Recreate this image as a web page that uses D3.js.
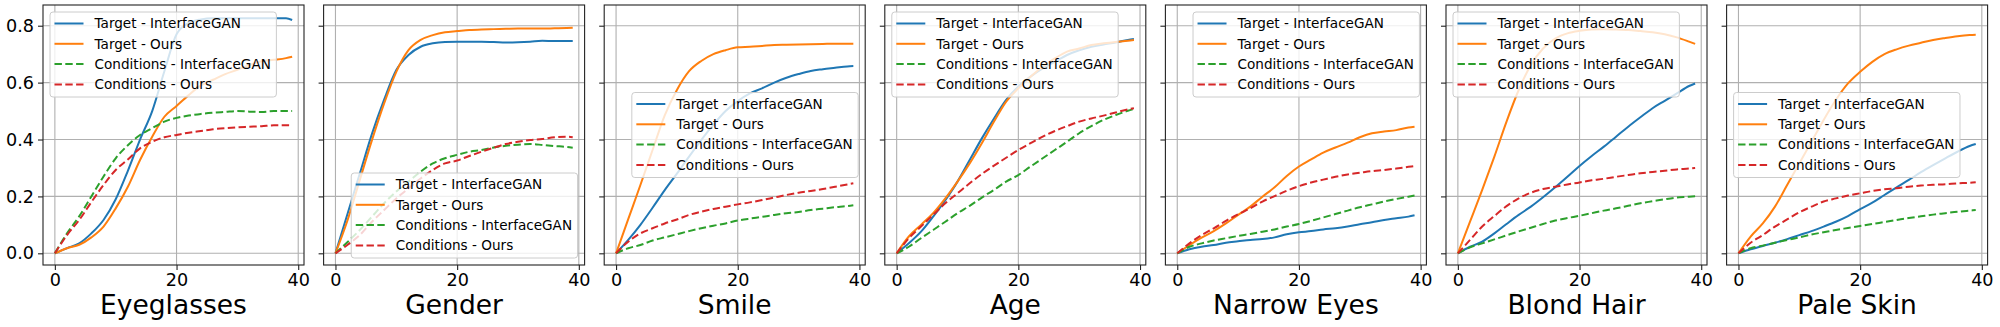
<!DOCTYPE html>
<html>
<head>
<meta charset="utf-8">
<script src="https://cdn.jsdelivr.net/npm/d3@7"></script>
<style>
	body { margin: 0; background: #fff; }
	svg { display: block; font-family: 'DejaVu Sans', sans-serif; }
</style>
</head>
<body>
<svg id="chart" width="2000" height="327"></svg>
<script>
var steps = [0, 2, 4, 6, 8, 10, 12, 14, 16, 18, 20, 22, 24, 26, 28, 30, 32, 34, 36, 38, 39]

var attributes = ['Eyeglasses', 'Gender', 'Smile', 'Age', 'Narrow Eyes', 'Blond Hair', 'Pale Skin']
var seriesNames = ['Target - InterfaceGAN', 'Target - Ours', 'Conditions - InterfaceGAN', 'Conditions - Ours']
var yTicks = [0, 0.2, 0.4, 0.6, 0.8]
var xTicks = [0, 20, 40]

var eyeglassesTargetIgan = [0, 0.018, 0.035, 0.07, 0.117, 0.19, 0.29, 0.40, 0.50, 0.64, 0.77, 0.81, 0.822, 0.826, 0.826, 0.826, 0.826, 0.826, 0.826, 0.826, 0.82]
var eyeglassesTargetOurs = [0, 0.018, 0.03, 0.056, 0.094, 0.158, 0.234, 0.328, 0.41, 0.48, 0.518, 0.556, 0.59, 0.61, 0.63, 0.645, 0.662, 0.675, 0.68, 0.686, 0.691]
var eyeglassesCondIgan = [0, 0.07, 0.13, 0.2, 0.27, 0.334, 0.38, 0.416, 0.44, 0.463, 0.476, 0.484, 0.49, 0.494, 0.497, 0.5, 0.498, 0.497, 0.5, 0.5, 0.5]
var eyeglassesCondOurs = [0, 0.064, 0.117, 0.18, 0.24, 0.293, 0.33, 0.369, 0.392, 0.408, 0.416, 0.424, 0.43, 0.436, 0.44, 0.443, 0.445, 0.447, 0.45, 0.45, 0.45]

var genderTargetIgan = [0, 0.14, 0.28, 0.42, 0.54, 0.644, 0.697, 0.726, 0.738, 0.743, 0.744, 0.744, 0.744, 0.743, 0.741, 0.742, 0.744, 0.747, 0.746, 0.746, 0.746]
var genderTargetOurs = [0, 0.117, 0.258, 0.398, 0.527, 0.638, 0.714, 0.75, 0.767, 0.777, 0.781, 0.785, 0.787, 0.788, 0.789, 0.79, 0.79, 0.79, 0.791, 0.792, 0.793]
var genderCondIgan = [0, 0.04, 0.082, 0.129, 0.176, 0.217, 0.252, 0.287, 0.316, 0.334, 0.346, 0.357, 0.363, 0.372, 0.378, 0.382, 0.384, 0.381, 0.377, 0.374, 0.371]
var genderCondOurs = [0, 0.03, 0.064, 0.111, 0.152, 0.193, 0.228, 0.263, 0.293, 0.316, 0.326, 0.342, 0.357, 0.371, 0.384, 0.392, 0.398, 0.402, 0.408, 0.41, 0.408]

var smileTargetIgan = [0, 0.047, 0.10, 0.16, 0.222, 0.28, 0.34, 0.398, 0.452, 0.50, 0.535, 0.562, 0.58, 0.60, 0.617, 0.63, 0.641, 0.647, 0.652, 0.657, 0.658]
var smileTargetOurs = [0, 0.12, 0.24, 0.363, 0.485, 0.574, 0.64, 0.676, 0.7, 0.714, 0.724, 0.726, 0.729, 0.732, 0.733, 0.734, 0.735, 0.736, 0.737, 0.737, 0.737]
var smileCondIgan = [0, 0.018, 0.029, 0.045, 0.056, 0.067, 0.078, 0.088, 0.097, 0.105, 0.115, 0.122, 0.128, 0.135, 0.141, 0.145, 0.152, 0.157, 0.162, 0.166, 0.169]
var smileCondOurs = [0, 0.041, 0.07, 0.088, 0.105, 0.119, 0.135, 0.146, 0.156, 0.164, 0.172, 0.179, 0.187, 0.196, 0.205, 0.213, 0.219, 0.226, 0.234, 0.242, 0.246]

var ageTargetIgan = [0, 0.035, 0.076, 0.129, 0.187, 0.252, 0.328, 0.404, 0.474, 0.539, 0.586, 0.621, 0.65, 0.673, 0.697, 0.714, 0.726, 0.734, 0.741, 0.75, 0.753]
var ageTargetOurs = [0, 0.059, 0.1, 0.141, 0.193, 0.252, 0.316, 0.387, 0.463, 0.533, 0.58, 0.621, 0.656, 0.685, 0.709, 0.72, 0.732, 0.738, 0.743, 0.747, 0.75]
var ageCondIgan = [0, 0.023, 0.053, 0.082, 0.111, 0.141, 0.167, 0.196, 0.223, 0.252, 0.275, 0.305, 0.334, 0.363, 0.392, 0.422, 0.447, 0.469, 0.486, 0.501, 0.507]
var ageCondOurs = [0, 0.053, 0.094, 0.135, 0.176, 0.211, 0.246, 0.279, 0.308, 0.336, 0.363, 0.387, 0.41, 0.43, 0.447, 0.463, 0.474, 0.484, 0.495, 0.506, 0.51]

var narrowTargetIgan = [0, 0.014, 0.023, 0.029, 0.037, 0.042, 0.047, 0.05, 0.056, 0.067, 0.074, 0.078, 0.084, 0.088, 0.094, 0.102, 0.109, 0.117, 0.123, 0.129, 0.134]
var narrowTargetOurs = [0, 0.029, 0.055, 0.078, 0.105, 0.135, 0.164, 0.199, 0.232, 0.272, 0.305, 0.33, 0.354, 0.372, 0.389, 0.408, 0.422, 0.428, 0.433, 0.442, 0.445]
var narrowCondIgan = [0, 0.023, 0.035, 0.045, 0.053, 0.061, 0.068, 0.076, 0.084, 0.094, 0.103, 0.114, 0.126, 0.138, 0.15, 0.162, 0.172, 0.182, 0.191, 0.199, 0.203]
var narrowCondOurs = [0, 0.035, 0.064, 0.088, 0.114, 0.137, 0.158, 0.182, 0.201, 0.22, 0.236, 0.249, 0.259, 0.269, 0.277, 0.283, 0.289, 0.293, 0.298, 0.304, 0.307]

var blondTargetIgan = [0, 0.023, 0.041, 0.07, 0.103, 0.135, 0.164, 0.197, 0.232, 0.269, 0.307, 0.342, 0.375, 0.41, 0.445, 0.478, 0.51, 0.536, 0.562, 0.588, 0.597]
var blondTargetOurs = [0, 0.111, 0.223, 0.34, 0.463, 0.574, 0.662, 0.72, 0.755, 0.773, 0.782, 0.787, 0.788, 0.787, 0.785, 0.781, 0.777, 0.77, 0.759, 0.744, 0.736]
var blondCondIgan = [0, 0.021, 0.035, 0.049, 0.063, 0.077, 0.09, 0.103, 0.115, 0.124, 0.132, 0.141, 0.15, 0.158, 0.167, 0.176, 0.183, 0.19, 0.196, 0.199, 0.201]
var blondCondOurs = [0, 0.047, 0.094, 0.131, 0.166, 0.193, 0.213, 0.226, 0.234, 0.242, 0.249, 0.257, 0.262, 0.269, 0.275, 0.281, 0.286, 0.29, 0.295, 0.298, 0.3]

var paleTargetIgan = [0, 0.014, 0.026, 0.037, 0.05, 0.064, 0.078, 0.094, 0.111, 0.131, 0.155, 0.178, 0.205, 0.232, 0.258, 0.285, 0.31, 0.334, 0.357, 0.377, 0.384]
var paleTargetOurs = [0, 0.059, 0.105, 0.164, 0.24, 0.316, 0.392, 0.469, 0.539, 0.597, 0.638, 0.673, 0.7, 0.717, 0.73, 0.74, 0.75, 0.757, 0.763, 0.767, 0.768]
var paleCondIgan = [0, 0.018, 0.027, 0.037, 0.047, 0.056, 0.066, 0.074, 0.082, 0.089, 0.096, 0.103, 0.11, 0.117, 0.124, 0.13, 0.136, 0.141, 0.146, 0.15, 0.152]
var paleCondOurs = [0, 0.037, 0.064, 0.094, 0.119, 0.144, 0.164, 0.182, 0.193, 0.203, 0.211, 0.219, 0.225, 0.229, 0.234, 0.238, 0.241, 0.243, 0.246, 0.248, 0.25]

var panelSeries = [
	[eyeglassesTargetIgan, eyeglassesTargetOurs, eyeglassesCondIgan, eyeglassesCondOurs],
	[genderTargetIgan, genderTargetOurs, genderCondIgan, genderCondOurs],
	[smileTargetIgan, smileTargetOurs, smileCondIgan, smileCondOurs],
	[ageTargetIgan, ageTargetOurs, ageCondIgan, ageCondOurs],
	[narrowTargetIgan, narrowTargetOurs, narrowCondIgan, narrowCondOurs],
	[blondTargetIgan, blondTargetOurs, blondCondIgan, blondCondOurs],
	[paleTargetIgan, paleTargetOurs, paleCondIgan, paleCondOurs]
]

var colors = ['#1f77b4', '#ff7f0e', '#2ca02c', '#d62728']
var dashes = [null, null, '7.4,3.4', '7.4,3.4']
var legendLoc = ['upper left', 'lower right', 'center right', 'upper left', 'upper right', 'upper left', 'center left']

var pw = 261
	ph = 260
	top0 = 5
	left0 = 43
	gap = 280.6

var x = d3.scaleLinear().domain([-1.95, 40.95]).range([0, pw])
var y = d3.scaleLinear().domain([-0.0411, 0.8728]).range([ph, 0])

var line = d3.line()
	.x(function (d) { return x(d[0]) })
	.y(function (d) { return y(d[1]) })
	.curve(d3.curveMonotoneX)

var svg = d3.select('#chart')

attributes.forEach(function (name, p) {

	var g = svg.append('g')
		.attr('transform', 'translate(' + (left0 + p * gap) + ',' + top0 + ')')

	// grid
	g.append('g').selectAll('line').data(xTicks).enter()
		.append('line')
		.attr('x1', function (d) { return x(d) })
		.attr('x2', function (d) { return x(d) })
		.attr('y1', 0)
		.attr('y2', ph)
		.attr('stroke', '#b0b0b0')
		.attr('stroke-width', 1.1)

	g.append('g').selectAll('line').data(yTicks).enter()
		.append('line')
		.attr('x1', 0)
		.attr('x2', pw)
		.attr('y1', function (d) { return y(d) })
		.attr('y2', function (d) { return y(d) })
		.attr('stroke', '#b0b0b0')
		.attr('stroke-width', 1.1)

	// axes
	g.append('g')
		.attr('transform', 'translate(0,' + ph + ')')
		.call(d3.axisBottom(x).tickValues(xTicks).tickSize(5).tickPadding(4).tickFormat(d3.format('d')))

	g.append('g')
		.call(d3.axisLeft(y).tickValues(yTicks).tickSize(5).tickPadding(4).tickFormat(p == 0 ? d3.format('.1f') : function () { return '' }))

	g.selectAll('.domain').remove()
	g.selectAll('.tick line').attr('stroke', '#222').attr('stroke-width', 1.1)
	g.selectAll('.tick text')
		.attr('fill', '#000')
		.style('font-size', '17.6px')
		.style('font-family', "'DejaVu Sans', sans-serif")

	// lines
	panelSeries[p].forEach(function (vals, s) {
		g.append('path')
			.datum(steps.map(function (st, k) { return [st, vals[k]] }))
			.attr('d', line)
			.attr('fill', 'none')
			.attr('stroke', colors[s])
			.attr('stroke-width', 2)
			.attr('stroke-dasharray', dashes[s])
	})

	g.append('rect')
		.attr('x', 0)
		.attr('y', 0)
		.attr('width', pw)
		.attr('height', ph)
		.attr('fill', 'none')
		.attr('stroke', '#222')
		.attr('stroke-width', 1.1)

	// legend
	var lg = g.append('g')
	var box = lg.append('rect')
		.attr('rx', 3)
		.attr('fill', 'rgba(255,255,255,0.8)')
		.attr('stroke', '#cccccc')
		.attr('stroke-width', 1)

	var maxw = 0
	seriesNames.forEach(function (nm, s) {
		var cy = 11.5 + s * 20.3
		lg.append('line')
			.attr('x1', 4.5)
			.attr('x2', 33.5)
			.attr('y1', cy)
			.attr('y2', cy)
			.attr('stroke', colors[s])
			.attr('stroke-width', 2)
			.attr('stroke-dasharray', dashes[s])
		var t = lg.append('text')
			.attr('x', 44.5)
			.attr('y', cy)
			.attr('dy', '0.36em')
			.style('font-size', '13.6px')
			.text(nm)
		maxw = Math.max(maxw, t.node().getComputedTextLength())
	})

	var bw = 44.5 + maxw + 5.5
		bh = 85
		pad = 7
		lx = pad
		ly = pad
	if (legendLoc[p].indexOf('right') >= 0) { lx = pw - pad - bw }
	if (legendLoc[p].indexOf('lower') >= 0) { ly = ph - pad - bh }
	if (legendLoc[p].indexOf('center') >= 0) { ly = (ph - bh) / 2 }

	box.attr('width', bw).attr('height', bh)
	lg.attr('transform', 'translate(' + lx + ',' + ly + ')')

	// attribute label
	g.append('text')
		.attr('x', pw / 2)
		.attr('y', 309)
		.attr('text-anchor', 'middle')
		.style('font-size', '26.5px')
		.text(name)
})
</script>
</body>
</html>
